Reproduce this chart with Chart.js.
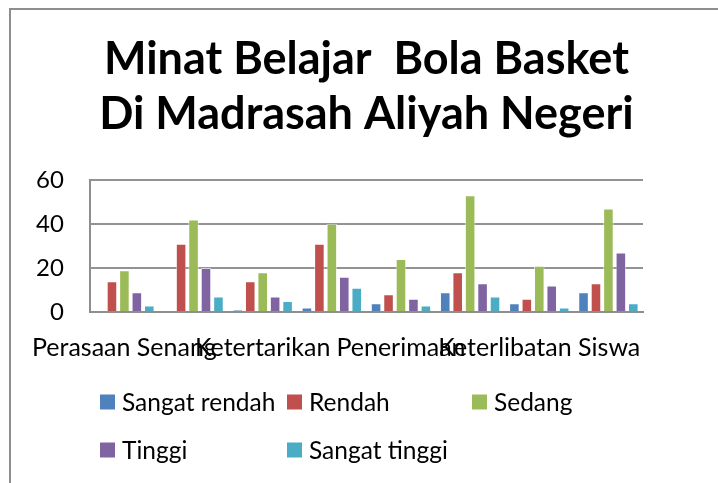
<!DOCTYPE html>
<html>
<head>
<meta charset="utf-8">
<title>Minat Belajar Bola Basket</title>
<script src="https://cdn.jsdelivr.net/npm/chart.js@4"></script>
<style>
  html, body { margin: 0; padding: 0; background: #fff; overflow: hidden; }
  /* bingkai abu-abu seperti grafik Excel (terpotong di kanan & bawah) */
  .bingkai { position: absolute; left: 9px; top: 8px; width: 800px; height: 600px; border: 2px solid #8e8e8e; }
  .chart-box { position: absolute; left: 0; top: 0; width: 718px; height: 483px; }
</style>
</head>
<body>
<div class="bingkai"></div>
<div class="chart-box"><canvas id="chartMinat"></canvas></div>

<script>
// =============================================
// Data grafik
// (label kategori genap tidak terbaca di gambar -> dikosongkan)
// =============================================
var kategori = ['Perasaan Senang', '', 'Ketertarikan', '', 'Penerimaan', '', 'Keterlibatan Siswa', ''];

var sangatRendah = [0, 0, 1, 2, 4, 9, 4, 9];
var rendah       = [14, 31, 14, 31, 8, 18, 6, 13];
var sedang       = [19, 42, 18, 40, 24, 53, 21, 47];
var tinggi       = [9, 20, 7, 16, 6, 13, 12, 27];
var sangatTinggi = [3, 7, 5, 11, 3, 7, 2, 4];

var namaSeri  = ['Sangat rendah', 'Rendah', 'Sedang', 'Tinggi', 'Sangat tinggi'];
var warnaSeri = ['#4f81bd', '#c0504d', '#9bbb59', '#8064a2', '#4bacc6'];

var yMin = 0, yMax = 60, yStep = 20;

var judul = ['Minat Belajar  Bola Basket', 'Di Madrasah Aliyah Negeri'];

var FONT = 'Lato, "Open Sans", sans-serif';

// posisi legenda (grid 3 kolom, 2 baris seperti Excel)
var legendaKolom = [100, 287, 472];
var legendaBaris = [402, 450];

// ——————————————————————————————————————————
// Plugin legenda berbentuk grid
// ——————————————————————————————————————————
var legendaGrid = {
  id: 'legendaGrid',
  afterDraw: function(chart) {
    var ctx = chart.ctx;
    var sets = chart.data.datasets;
    ctx.save();
    ctx.font = '24.5px ' + FONT;
    ctx.textBaseline = 'middle';
    ctx.textAlign = 'left';
    for (var i = 0; i < sets.length; i++) {
      var x = legendaKolom[i % 3];
      var y = legendaBaris[Math.floor(i / 3)];
      ctx.fillStyle = sets[i].backgroundColor;
      ctx.fillRect(x, y - 7.5, 15, 15);
      ctx.fillStyle = '#000';
      ctx.fillText(sets[i].label, x + 22, y + 1);
    }
    ctx.restore();
  }
};

function buatDataset(i, nilai) {
  return {
    label: namaSeri[i],
    data: nilai,
    backgroundColor: warnaSeri[i],
    borderColor: 'rgba(255,255,255,0.6)',
    borderWidth: 1,
    barPercentage: 0.85,
    categoryPercentage: 0.9
  };
}

var ctx = document.getElementById('chartMinat');

new Chart(ctx, {
  type: 'bar',
  data: {
    labels: kategori,
    datasets: [
      buatDataset(0, sangatRendah),
      buatDataset(1, rendah),
      buatDataset(2, sedang),
      buatDataset(3, tinggi),
      buatDataset(4, sangatTinggi)
    ]
  },
  options: {
    responsive: true,
    maintainAspectRatio: false,
    animation: false,
    layout: { padding: { top: 0, left: 10, right: 75, bottom: 99 } },
    plugins: {
      legend: { display: false },
      tooltip: { enabled: false },
      title: {
        display: true,
        text: judul,
        color: '#000',
        fullSize: false,
        font: { family: FONT, size: 45, weight: 'bold', lineHeight: 1.22 },
        padding: { top: 32, bottom: 38 }
      }
    },
    scales: {
      x: {
        grid: { display: false, drawTicks: false },
        border: { display: true, color: '#8e8e8e', width: 2 },
        ticks: {
          color: '#000',
          font: { family: FONT, size: 25 },
          padding: 21,
          autoSkip: false,
          maxRotation: 0,
          minRotation: 0
        },
        // label panjang boleh keluar dari area plot, seperti di Excel
        afterFit: function(scale) {
          scale.paddingLeft = 0;
          scale.paddingRight = 0;
        }
      },
      y: {
        min: yMin,
        max: yMax,
        grid: { color: '#939393', lineWidth: 2, drawTicks: false },
        border: { display: true, color: '#8e8e8e', width: 2 },
        ticks: {
          stepSize: yStep,
          color: '#000',
          font: { family: FONT, size: 24 },
          padding: 26
        }
      }
    }
  },
  plugins: [legendaGrid]
});
</script>
</body>
</html>
